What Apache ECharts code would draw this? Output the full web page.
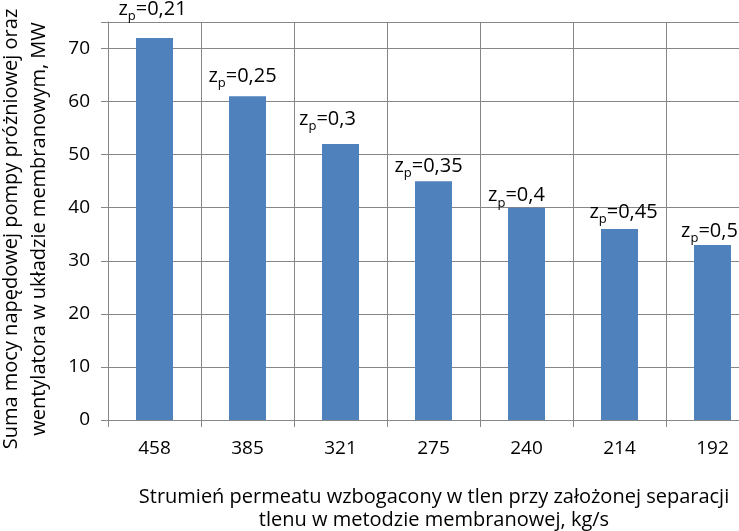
<!DOCTYPE html>
<html><head><meta charset="utf-8">
<script src="https://cdn.jsdelivr.net/npm/echarts@6/dist/echarts.min.js"></script>
<style>html,body{margin:0;padding:0;background:#fff}#c{width:739px;height:531px}</style>
</head><body><div id="c"></div>
<script>
var categories = ['458','385','321','275','240','214','192'];
var values = [72, 61, 52, 45, 40, 36, 33];
var zpLabels = ['0,21','0,25','0,3','0,35','0,4','0,45','0,5'];
var yTicks = [0,10,20,30,40,50,60,70];

// label placement tweaks (styling only, mirrors the manually placed labels of the original)
var labelShiftX = [-2, -5, -13, -5, -10, 4, -3];
var labelShiftY = [-14, -5, -10, 0, 3, -2, 1];

var FONT = 'Open Sans';
var seriesData = values.map(function(v, i){
  return {value: v, label: {offset: [labelShiftX[i], labelShiftY[i]]}};
});
var chart = echarts.init(document.getElementById('c'));
chart.setOption({
  animation: false,
  backgroundColor: '#fff',
  textStyle: {fontFamily: FONT, color: '#000'},
  grid: {left: 108, top: 22, width: 651, height: 398, containLabel: false, outerBoundsMode: 'none'},
  xAxis: {
    type: 'category', data: categories,
    axisLine: {lineStyle: {color: '#868686', width: 1}},
    axisTick: {show: true, length: 7, lineStyle: {color: '#868686'}},
    axisLabel: {fontFamily: FONT, fontSize: 19, color: '#000', margin: 19},
    splitLine: {show: true, interval: 0, lineStyle: {color: '#868686', width: 1}}
  },
  yAxis: {
    type: 'value', min: 0, max: 75, interval: 10,
    axisLine: {show: true, lineStyle: {color: '#868686', width: 1}},
    axisTick: {show: true, length: 7, lineStyle: {color: '#868686'}},
    axisLabel: {fontFamily: FONT, fontSize: 19, color: '#000', margin: 18,
      formatter: function(v){ return yTicks.indexOf(v) >= 0 ? String(v) : ''; }},
    splitLine: {show: true, lineStyle: {color: '#868686', width: 1}}
  },
  series: [{
    type: 'bar', data: seriesData, barWidth: 37,
    itemStyle: {color: '#4F81BD'},
    label: {
      show: true, position: 'top', distance: 4,
      formatter: function(p){ return '{a|z}{b|p}{a|=' + zpLabels[p.dataIndex] + '}'; },
      rich: {
        a: {fontFamily: FONT, fontSize: 20, color: '#000', lineHeight: 22, verticalAlign: 'middle'},
        b: {fontFamily: FONT, fontSize: 13, color: '#000', lineHeight: 13, padding: [12,0,0,0], verticalAlign: 'top'}
      }
    }
  }],
  graphic: [
    {type: 'text', x: 434, y: 497, style: {text: 'Strumień permeatu wzbogacony w tlen przy założonej separacji', font: '20px "Open Sans"', fill: '#000', align: 'center', verticalAlign: 'middle'}},
    {type: 'text', x: 434, y: 520, style: {text: 'tlenu w metodzie membranowej, kg/s', font: '20px "Open Sans"', fill: '#000', align: 'center', verticalAlign: 'middle'}},
    {type: 'text', x: 11, y: 229, rotation: Math.PI/2, style: {text: 'Suma mocy napędowej pompy próżniowej oraz', font: '20px "Open Sans"', fill: '#000', align: 'center', verticalAlign: 'middle'}},
    {type: 'text', x: 39, y: 229, rotation: Math.PI/2, style: {text: 'wentylatora w układzie membranowym, MW', font: '20px "Open Sans"', fill: '#000', align: 'center', verticalAlign: 'middle'}}
  ]
});
</script></body></html>
